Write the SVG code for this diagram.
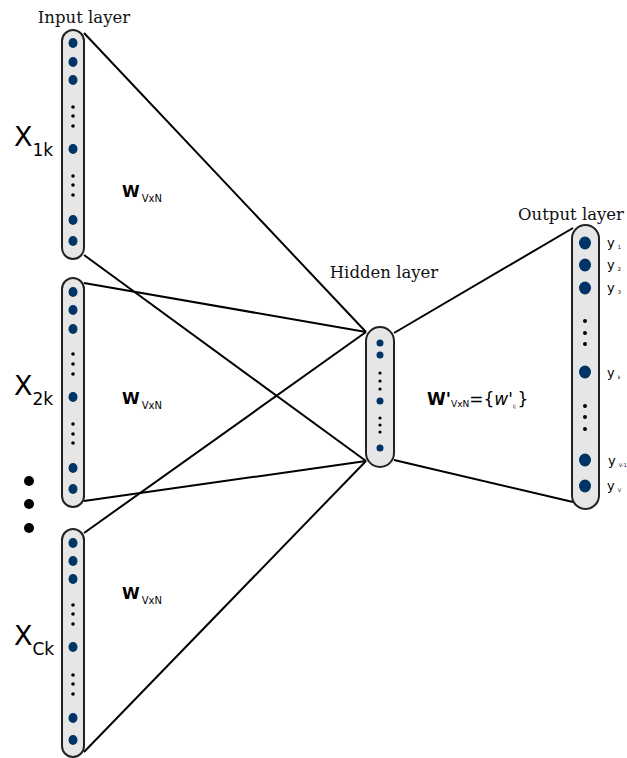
<svg xmlns="http://www.w3.org/2000/svg" width="627" height="758" viewBox="0 0 627 758">
<style>
.box{fill:#e6e6e6;stroke:#222;stroke-width:2}
.bd{fill:#003366}
.sd{fill:#000}
.ln{stroke:#000;stroke-width:2;fill:none}
.ser{font-family:"DejaVu Serif",serif;font-size:16.5px;fill:#111}
.sans{font-family:"DejaVu Sans",sans-serif;fill:#000}
.b{font-weight:bold}
</style>
<rect width="627" height="758" fill="#fff"/>
<g id="connectors">
<line class="ln" x1="84" y1="33" x2="366" y2="332"/>
<line class="ln" x1="84" y1="255" x2="366" y2="461"/>
<line class="ln" x1="84" y1="283" x2="366" y2="332"/>
<line class="ln" x1="84" y1="501" x2="366" y2="461"/>
<line class="ln" x1="84" y1="533" x2="366" y2="332"/>
<line class="ln" x1="84" y1="752" x2="366" y2="461"/>
<line class="ln" x1="394" y1="333" x2="573" y2="228"/>
<line class="ln" x1="394" y1="460" x2="573" y2="502"/>
</g>
<g id="input1">
<rect class="box" x="62" y="30" width="22" height="229" rx="11"/>
<ellipse class="bd" cx="73" cy="43" rx="4.5" ry="5"/>
<ellipse class="bd" cx="73" cy="62" rx="4.5" ry="5"/>
<ellipse class="bd" cx="73" cy="80" rx="4.5" ry="5"/>
<circle class="sd" cx="73" cy="107" r="1.8"/>
<circle class="sd" cx="73" cy="116" r="1.8"/>
<circle class="sd" cx="73" cy="126" r="1.8"/>
<ellipse class="bd" cx="73" cy="149" rx="4.5" ry="5"/>
<circle class="sd" cx="73" cy="176" r="1.8"/>
<circle class="sd" cx="73" cy="185" r="1.8"/>
<circle class="sd" cx="73" cy="195" r="1.8"/>
<ellipse class="bd" cx="73" cy="220" rx="4.5" ry="5"/>
<ellipse class="bd" cx="73" cy="241" rx="4.5" ry="5"/>
</g>
<g id="input2">
<rect class="box" x="62" y="278" width="22" height="229" rx="11"/>
<ellipse class="bd" cx="73" cy="292" rx="4.5" ry="5"/>
<ellipse class="bd" cx="73" cy="310" rx="4.5" ry="5"/>
<ellipse class="bd" cx="73" cy="329" rx="4.5" ry="5"/>
<circle class="sd" cx="73" cy="354" r="1.8"/>
<circle class="sd" cx="73" cy="364" r="1.8"/>
<circle class="sd" cx="73" cy="374" r="1.8"/>
<ellipse class="bd" cx="73" cy="397" rx="4.5" ry="5"/>
<circle class="sd" cx="73" cy="424" r="1.8"/>
<circle class="sd" cx="73" cy="434" r="1.8"/>
<circle class="sd" cx="73" cy="443" r="1.8"/>
<ellipse class="bd" cx="73" cy="468" rx="4.5" ry="5"/>
<ellipse class="bd" cx="73" cy="489" rx="4.5" ry="5"/>
</g>
<g id="input3">
<rect class="box" x="62" y="529" width="22" height="228" rx="11"/>
<ellipse class="bd" cx="73" cy="543" rx="4.5" ry="5"/>
<ellipse class="bd" cx="73" cy="561" rx="4.5" ry="5"/>
<ellipse class="bd" cx="73" cy="579" rx="4.5" ry="5"/>
<circle class="sd" cx="73" cy="605" r="1.8"/>
<circle class="sd" cx="73" cy="614" r="1.8"/>
<circle class="sd" cx="73" cy="624" r="1.8"/>
<ellipse class="bd" cx="73" cy="647" rx="4.5" ry="5"/>
<circle class="sd" cx="73" cy="675" r="1.8"/>
<circle class="sd" cx="73" cy="684" r="1.8"/>
<circle class="sd" cx="73" cy="694" r="1.8"/>
<ellipse class="bd" cx="73" cy="718" rx="4.5" ry="5"/>
<ellipse class="bd" cx="73" cy="740" rx="4.5" ry="5"/>
</g>
<g id="ellipsis">
<circle class="sd" cx="29" cy="481" r="5"/>
<circle class="sd" cx="29" cy="504" r="5"/>
<circle class="sd" cx="29" cy="528" r="5"/>
</g>
<g id="hidden">
<rect class="box" x="366" y="327" width="28" height="140" rx="14"/>
<circle class="bd" cx="380" cy="343" r="3.5"/>
<circle class="bd" cx="380" cy="355" r="3.5"/>
<circle class="sd" cx="380" cy="373" r="1.6"/>
<circle class="sd" cx="380" cy="381" r="1.6"/>
<circle class="sd" cx="380" cy="389" r="1.6"/>
<circle class="bd" cx="380" cy="401" r="3.5"/>
<circle class="sd" cx="380" cy="418" r="1.6"/>
<circle class="sd" cx="380" cy="425" r="1.6"/>
<circle class="sd" cx="380" cy="432" r="1.6"/>
<circle class="bd" cx="380" cy="448" r="3.5"/>
</g>
<g id="output">
<rect class="box" x="572" y="225" width="27" height="284" rx="13.5"/>
<ellipse class="bd" cx="585" cy="243" rx="6" ry="6.5"/>
<ellipse class="bd" cx="585" cy="265" rx="6" ry="6.5"/>
<ellipse class="bd" cx="585" cy="288" rx="6" ry="6.5"/>
<circle class="sd" cx="585" cy="321" r="2"/>
<circle class="sd" cx="585" cy="333" r="2"/>
<circle class="sd" cx="585" cy="344" r="2"/>
<ellipse class="bd" cx="585" cy="372" rx="6" ry="6.5"/>
<circle class="sd" cx="585" cy="406" r="2"/>
<circle class="sd" cx="585" cy="417" r="2"/>
<circle class="sd" cx="585" cy="429" r="2"/>
<ellipse class="bd" cx="585" cy="460" rx="6" ry="6.5"/>
<ellipse class="bd" cx="585" cy="486" rx="6" ry="6.5"/>
</g>
<g id="labels">
<text class="ser" x="84" y="23" text-anchor="middle">Input layer</text>
<text class="ser" x="384" y="278" text-anchor="middle">Hidden layer</text>
<text class="ser" x="571" y="220" text-anchor="middle">Output layer</text>
<text class="sans" x="14" y="146" font-size="27">X<tspan font-size="17" dy="10">1k</tspan></text>
<text class="sans" x="14" y="395" font-size="27">X<tspan font-size="17" dy="10">2k</tspan></text>
<text class="sans" x="14" y="645" font-size="27">X<tspan font-size="17" dy="10">Ck</tspan></text>
<text class="sans" x="122" y="197" font-size="16"><tspan class="b">W</tspan><tspan font-size="10" dx="2" dy="5">VxN</tspan></text>
<text class="sans" x="122" y="404" font-size="16"><tspan class="b">W</tspan><tspan font-size="10" dx="2" dy="5">VxN</tspan></text>
<text class="sans" x="122" y="599" font-size="16"><tspan class="b">W</tspan><tspan font-size="10" dx="2" dy="5">VxN</tspan></text>
<text class="sans" x="427" y="405" font-size="17"><tspan class="b">W'</tspan><tspan font-size="9" dy="2">VxN</tspan><tspan dy="-2">={</tspan><tspan font-style="italic">w'</tspan><tspan font-size="5" dy="3">ij</tspan><tspan dy="-3" dx="2">}</tspan></text>
<text class="sans" x="607" y="247" font-size="13">y<tspan font-size="5" dx="3" dy="2">1</tspan></text>
<text class="sans" x="607" y="269" font-size="13">y<tspan font-size="5" dx="3" dy="2">2</tspan></text>
<text class="sans" x="607" y="292" font-size="13">y<tspan font-size="5" dx="3" dy="2">3</tspan></text>
<text class="sans" x="607" y="377" font-size="13">y<tspan font-size="5" dx="3" dy="2">k</tspan></text>
<text class="sans" x="608" y="465" font-size="13">y<tspan font-size="5" dx="3" dy="2">V-1</tspan></text>
<text class="sans" x="607" y="490" font-size="13">y<tspan font-size="5" dx="3" dy="2">V</tspan></text>
</g>
</svg>
